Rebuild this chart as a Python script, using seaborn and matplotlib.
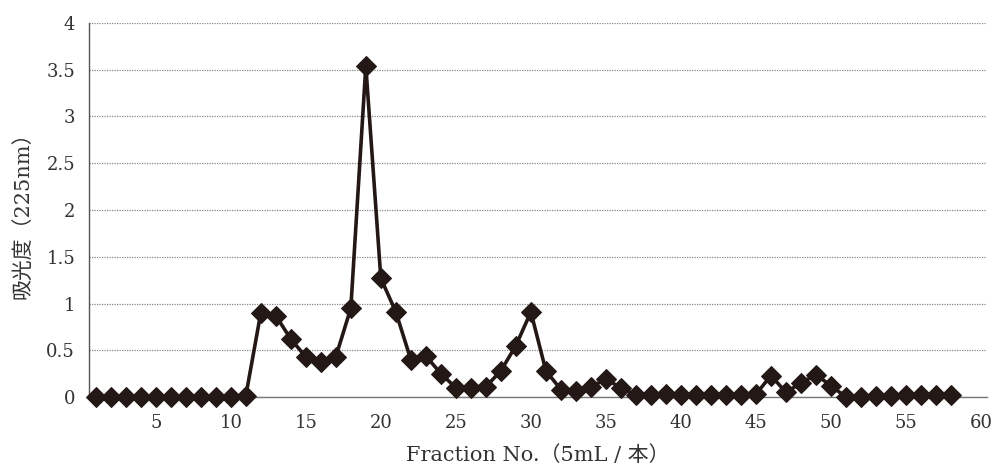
import numpy as np
import pandas as pd
import matplotlib
matplotlib.use("Agg")
import matplotlib.pyplot as plt
import seaborn as sns

# DATA
fraction_no = list(range(1, 59))
absorbance = [
    0, 0, 0, 0, 0, 0, 0, 0, 0, 0,            # 1-10
    0.01, 0.90, 0.87, 0.62, 0.43, 0.37, 0.43, 0.95, 3.54, 1.27,   # 11-20
    0.91, 0.40, 0.44, 0.25, 0.10, 0.10, 0.11, 0.28, 0.55, 0.91,   # 21-30
    0.28, 0.08, 0.06, 0.11, 0.19, 0.10, 0.02, 0.02, 0.03, 0.02,   # 31-40
    0.02, 0.02, 0.02, 0.02, 0.03, 0.23, 0.05, 0.15, 0.24, 0.12,   # 41-50
    0.0, 0.0, 0.01, 0.01, 0.02, 0.02, 0.02, 0.02,                 # 51-58
]
x_ticks = [5, 10, 15, 20, 25, 30, 35, 40, 45, 50, 55, 60]
y_ticks = [0, 0.5, 1, 1.5, 2, 2.5, 3, 3.5, 4]
y_tick_labels = ["0", "0.5", "1", "1.5", "2", "2.5", "3", "3.5", "4"]

df = pd.DataFrame({"fraction": fraction_no, "abs": absorbance})

sns.set_style("white")
plt.rcParams['font.family'] = ['DejaVu Serif', 'Noto Sans CJK JP']

fig = plt.figure(figsize=(9.93, 4.74), dpi=100)
ax = fig.add_axes([0.0896, 0.1624, 0.9044, 0.7891])

ink = "#231815"
sns.lineplot(data=df, x="fraction", y="abs", ax=ax, color=ink, linewidth=2.6,
             marker="D", markersize=10, markeredgecolor=ink, clip_on=False, zorder=3)

ax.set_xlim(0.55, 60.4)
ax.set_ylim(0, 4)
ax.set_xticks(x_ticks)
ax.set_yticks(y_ticks)
ax.set_yticklabels(y_tick_labels)
ax.tick_params(axis="both", length=0, labelsize=13, colors="#333333")
ax.tick_params(axis="x", pad=12)
ax.tick_params(axis="y", pad=10)

ax.grid(axis="y", linestyle=(0, (1, 1)), color="#888888", linewidth=0.9)
ax.grid(axis="x", visible=False)
for s in ["top", "right"]:
    ax.spines[s].set_visible(False)
ax.spines["left"].set_color("#555555")
ax.spines["left"].set_linewidth(1.0)
ax.spines["bottom"].set_color("#777777")
ax.spines["bottom"].set_linewidth(1.0)

ax.set_xlabel("Fraction No.（5mL / 本）", fontsize=15, color="#333333", labelpad=10)
ax.set_ylabel("吸光度（225nm）", fontsize=15, color="#333333", labelpad=10)

fig.savefig("out.png", dpi=100)
